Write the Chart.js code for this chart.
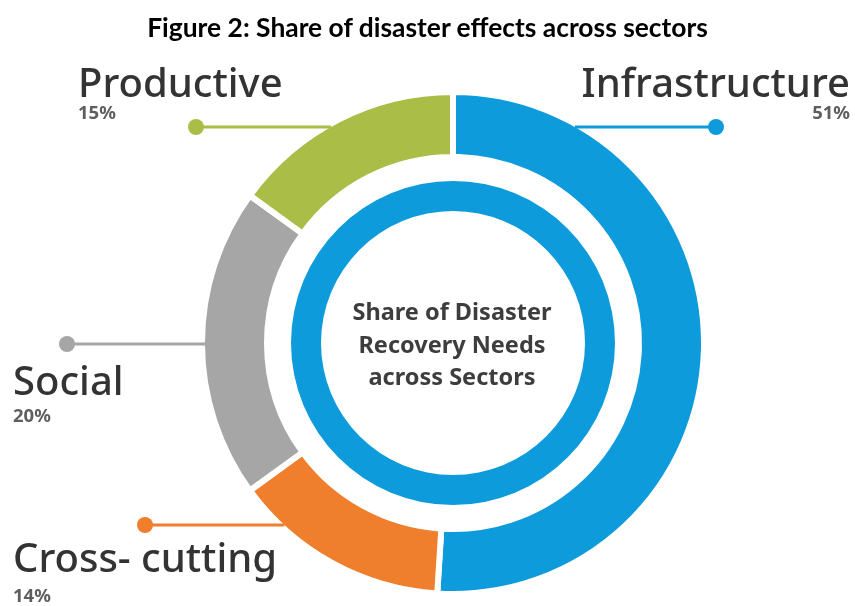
<!DOCTYPE html>
<html>
<head>
<meta charset="utf-8">
<title>Share of disaster effects across sectors</title>
<script src="https://cdn.jsdelivr.net/npm/chart.js@4.4.1/dist/chart.umd.min.js"></script>
<style>
  html, body { margin: 0; padding: 0; background: #ffffff; }
  #wrap { position: relative; width: 855px; height: 606px; overflow: hidden; }
  #title {
    position: absolute; left: 0; top: 11px; width: 855px; margin: 0;
    text-align: center; font: 700 26.4px Lato, "Liberation Sans", sans-serif;
    color: #000000; letter-spacing: 0;
  }
  canvas { position: absolute; left: 0; top: 0; }
</style>
</head>
<body>
<div id="wrap">
  <canvas id="chart" width="855" height="606"></canvas>
  <h1 id="title">Figure 2: Share of disaster effects across sectors</h1>
</div>
<script>
// Sectors, clockwise from twelve o'clock
const sectors = ['Infrastructure', 'Cross- cutting', 'Social', 'Productive'];
const shares = [51, 14, 20, 15];
const sectorColors = ['#0e9bdc', '#ef7f2c', '#a6a6a6', '#a9bd47'];
const centerLines = ['Share of Disaster', 'Recovery Needs', 'across Sectors'];

const ringBlue = '#0e9bdc';
const segmentGap = 6;
const labelFont = '"Noto Sans", "Open Sans", sans-serif';

// Callout placement for each sector (same order as sectors)
const calloutLayout = [
  { y: 127, dotX: 716, align: 'right', textX: 850, nameY: 97,  pctY: 119 },
  { y: 525, dotX: 145, align: 'left',  textX: 13,  nameY: 572, pctY: 602 },
  { y: 344, dotX: 67,  align: 'left',  textX: 13,  nameY: 395, pctY: 422 },
  { y: 127, dotX: 196, align: 'left',  textX: 78,  nameY: 97,  pctY: 119 }
];

const calloutPlugin = {
  id: 'callouts',
  afterDatasetsDraw(chart) {
    const meta = chart.getDatasetMeta(0);
    const ctx = chart.ctx;
    ctx.save();
    meta.data.forEach((arc, i) => {
      const p = calloutLayout[i];
      const r = arc.outerRadius - segmentGap / 2;
      const dy = p.y - arc.y;
      const dx = Math.sqrt(Math.max(r * r - dy * dy, 0));
      const edgeX = p.dotX > arc.x ? arc.x + dx : arc.x - dx;
      const color = sectorColors[i];
      // leader line
      ctx.strokeStyle = color;
      ctx.lineWidth = 3;
      ctx.beginPath();
      ctx.moveTo(p.dotX, p.y);
      ctx.lineTo(edgeX, p.y);
      ctx.stroke();
      // end dot
      ctx.fillStyle = color;
      ctx.beginPath();
      ctx.arc(p.dotX, p.y, 8, 0, Math.PI * 2);
      ctx.fill();
      // sector name and share
      ctx.textAlign = p.align;
      ctx.textBaseline = 'alphabetic';
      ctx.fillStyle = '#333333';
      ctx.font = '500 40px ' + labelFont;
      ctx.fillText(sectors[i], p.textX, p.nameY);
      ctx.fillStyle = '#5e5e5e';
      ctx.font = '700 18.5px ' + labelFont;
      ctx.fillText(shares[i] + '%', p.textX, p.pctY);
    });
    // caption inside the inner ring
    const c = meta.data[0];
    ctx.fillStyle = '#3d3d3d';
    ctx.font = '700 23.5px ' + labelFont;
    ctx.textAlign = 'center';
    centerLines.forEach((line, k) => {
      ctx.fillText(line, c.x - 1, c.y - 23 + k * 32.5);
    });
    ctx.restore();
  }
};

new Chart(document.getElementById('chart'), {
  type: 'doughnut',
  data: {
    labels: sectors,
    datasets: [
      {
        data: shares,
        backgroundColor: sectorColors,
        borderColor: '#ffffff',
        borderWidth: segmentGap,
        weight: 65
      },
      {
        data: [100],
        backgroundColor: 'rgba(0,0,0,0)',
        borderWidth: 0,
        weight: 24
      },
      {
        data: [100],
        backgroundColor: ringBlue,
        borderWidth: 0,
        weight: 30
      }
    ]
  },
  options: {
    responsive: false,
    animation: false,
    events: [],
    cutout: 132,
    layout: { padding: { left: 199, top: 89, right: 148, bottom: 9 } },
    plugins: {
      legend: { display: false },
      tooltip: { enabled: false },
      title: { display: false }
    }
  },
  plugins: [calloutPlugin]
});
</script>
</body>
</html>
